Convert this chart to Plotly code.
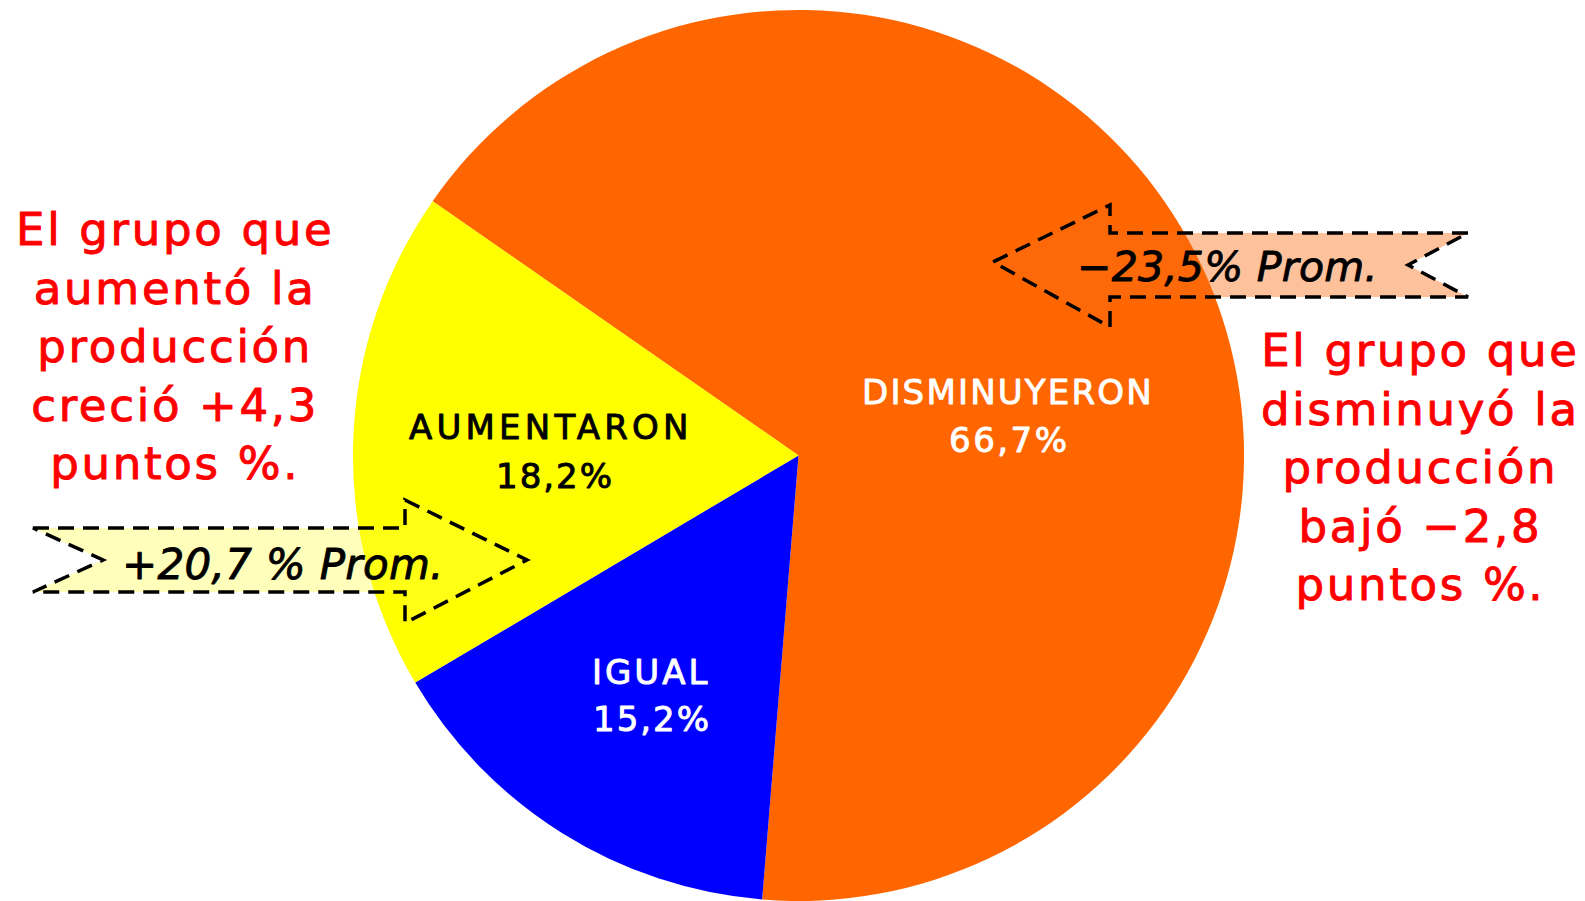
import plotly.graph_objects as go

# ---- data ----
categories = ["DISMINUYERON", "IGUAL", "AUMENTARON"]
values = [66.7, 15.2, 18.2]
slice_colors = ["#FF6600", "#0000FF", "#FFFF00"]
label_colors = ["white", "white", "black"]

left_note = ["El grupo que", "aumentó la", "producción", "creció +4,3", "puntos %."]
right_note = ["El grupo que", "disminuyó la", "producción", "bajó −2,8", "puntos %."]
arrow_up_text = "+20,7 % Prom."
arrow_down_text = "−23,5% Prom."

W, H = 1585, 901


def X(px):
    return px / W


def Y(py):
    return 1 - py / H


def pct(v):
    return f"{v:.1f}".replace(".", ",") + "%"


def styled(s, ls, color, sw):
    return (f'<span style="letter-spacing:{ls}px; stroke:{color}; '
            f'stroke-width:{sw}px; stroke-linejoin:round">{s}</span>')


fig = go.Figure()
fig.add_trace(go.Pie(
    labels=categories,
    values=values,
    marker=dict(colors=slice_colors, line=dict(width=0)),
    sort=False,
    direction="clockwise",
    rotation=-55.2,
    textinfo="none",
    hoverinfo="label+value",
    showlegend=False,
    domain=dict(x=[X(352), X(1245)], y=[0.0, 0.989]),
))

FONT = "DejaVu Sans"
ann = []

# slice labels (name line + value line)
label_pos = {
    "DISMINUYERON": ((1007.5, 392.5, 2.2), (1009, 439.5, 2.5)),
    "IGUAL": ((650.5, 671.5, 3.0), (651.5, 719, 2.0)),
    "AUMENTARON": ((551, 427.5, 4.2), (555, 475.5, 2.0)),
}
for cat, v, col in zip(categories, values, label_colors):
    (x1, y1, l1), (x2, y2, l2) = label_pos[cat]
    for txt, x, y, ls in ((cat, x1, y1, l1), (pct(v), x2, y2, l2)):
        ann.append(dict(text=styled(txt, ls, col, 0.9), x=X(x), y=Y(y), xref="paper", yref="paper",
                        showarrow=False, xanchor="center", yanchor="middle",
                        font=dict(family=FONT, size=34, color=col)))

# red notes
for lines, cx, cy in ((left_note, 175, 346), (right_note, 1420, 467)):
    ann.append(dict(text="<br>".join(styled(l, 2.7, "#FF0000", 1.0) for l in lines),
                    x=X(cx), y=Y(cy), xref="paper", yref="paper", showarrow=False,
                    align="center", xanchor="center", yanchor="middle",
                    font=dict(family=FONT, size=45, color="#FF0000")))

# arrow texts
ann.append(dict(text="<i>" + styled(arrow_up_text, 0.3, "black", 0.9) + "</i>",
                x=X(283), y=Y(564), xref="paper", yref="paper",
                showarrow=False, xanchor="center", yanchor="middle",
                font=dict(family=FONT, size=42, color="black")))
ann.append(dict(text="<i>" + styled(arrow_down_text, 0.3, "black", 0.9) + "</i>",
                x=X(1227), y=Y(266.7), xref="paper", yref="paper",
                showarrow=False, xanchor="center", yanchor="middle",
                font=dict(family=FONT, size=41, color="black")))


def path(points):
    return "M " + " L ".join(f"{X(px):.5f},{Y(py):.5f}" for px, py in points) + " Z"


left_arrow = [(33, 528), (405, 528), (405, 500), (527, 560), (405, 623), (405, 592), (33, 592), (103, 560)]
right_arrow = [(1468, 233), (1110, 233), (1110, 205), (993, 262), (1110, 327), (1110, 297), (1468, 297), (1408, 265)]

dash_line = dict(color="black", width=3.5, dash="16px,9px")
shapes = [
    dict(type="path", path=path(left_arrow), xref="paper", yref="paper", layer="above",
         fillcolor="rgba(255,255,60,0.35)", line=dash_line),
    dict(type="path", path=path(right_arrow), xref="paper", yref="paper", layer="above",
         fillcolor="rgba(250,110,20,0.42)", line=dash_line),
]

fig.update_layout(
    width=W, height=H,
    margin=dict(l=0, r=0, t=0, b=0),
    paper_bgcolor="white", plot_bgcolor="white",
    annotations=ann, shapes=shapes,
)

fig.write_html("out.html", config={"displayModeBar": False},
               post_script="document.body.style.margin='0px';")
